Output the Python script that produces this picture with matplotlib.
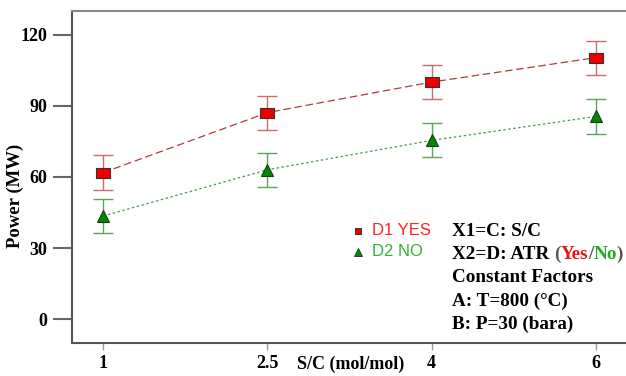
import numpy as np
import matplotlib.pyplot as plt

# data
sc_labels = ["1", "2.5", "4", "6"]
d1_yes = [61.8, 87.1, 100.0, 110.3]
d1_err = [7.3, 7.2, 7.2, 7.2]
d2_no = [43.5, 63.0, 75.4, 85.5]
d2_err = [7.2, 7.2, 7.2, 7.2]

x = np.arange(len(sc_labels))

fig = plt.figure(figsize=(6.26, 3.76), dpi=100)
ax = fig.add_axes([0.115, 0.088, 0.885, 0.883])

serif = "Liberation Serif"
rect = [(-1, -0.72), (1, -0.72), (1, 0.72), (-1, 0.72), (-1, -0.72)]

# error bars
ax.errorbar(x, d1_yes, yerr=d1_err, fmt="none", ecolor="#cf6a6a", elinewidth=1.0,
            capsize=7, capthick=1.0, zorder=2)
ax.errorbar(x, d2_no, yerr=d2_err, fmt="none", ecolor="#5aa55a", elinewidth=1.0,
            capsize=7, capthick=1.0, zorder=2)

# lines
ax.plot(x, d1_yes, color="#b03a3a", lw=0.9, ls=(0, (6, 3)), zorder=3)
ax.plot(x, d2_no, color="#4a9a4a", lw=0.9, ls=(0, (2, 2)), zorder=3)

# markers
ax.plot(x, d1_yes, ls="none", marker=rect, ms=10, mfc="#ee0000", mec="#333333",
        mew=0.8, zorder=4)
ax.plot(x, d2_no, ls="none", marker="^", ms=8, mfc="#008800", mec="#1a3a1a",
        mew=0.8, zorder=4)

ax.set_xlim(-0.189, 3.183)
ax.set_ylim(-10, 130)
ax.set_xticks(x)
ax.set_xticklabels(sc_labels)
ax.set_yticks([0, 30, 60, 90, 120])

for lab in ax.get_xticklabels() + ax.get_yticklabels():
    lab.set_fontfamily(serif)
    lab.set_fontweight("bold")
    lab.set_fontsize(13)

ax.tick_params(axis="y", length=14, width=1.5, color="#666666", pad=4)
ax.tick_params(axis="x", length=5, width=1.0, color="#999999", pad=4)

for s in ["left", "bottom", "top"]:
    ax.spines[s].set_color("#555555")
    ax.spines[s].set_linewidth(1.5)
ax.spines["top"].set_color("#888888")
ax.spines["right"].set_visible(False)

# axis labels
fig.text(0.024, 0.479, "Power (MW)", rotation=90, ha="center", va="center",
         fontfamily=serif, fontweight="bold", fontsize=13.5)
fig.text(0.475, 0.03, "S/C (mol/mol)", ha="left", va="center",
         fontfamily=serif, fontweight="bold", fontsize=13)

# legend (manual, inside the axes)
ax.plot([1.55], [37.3], ls="none", marker="s", ms=5, mfc="#ee0000", mec="#222222",
        mew=0.6)
ax.plot([1.55], [28.5], ls="none", marker="^", ms=6, mfc="#008800", mec="#1a3a1a",
        mew=0.6)
ax.text(1.64, 37.3, "D1 YES", color="#ff2222", fontfamily="Liberation Sans",
        fontsize=12, va="center", ha="left")
ax.text(1.64, 28.5, "D2 NO", color="#33b033", fontfamily="Liberation Sans",
        fontsize=12, va="center", ha="left")

# factor notes
tx = 0.722
ty = [0.383, 0.322, 0.261, 0.199, 0.137]
fs = 13.8
kw = dict(fontfamily=serif, fontweight="bold", fontsize=fs, va="center", ha="left")
fig.text(tx, ty[0], "X1=C: S/C", **kw)
t = fig.text(tx, ty[1], "X2=D: ATR ", **kw)
for piece, col in [("(", "#555555"), ("Yes", "#ee1111"), ("/", "#555555"),
                   ("No", "#22aa22"), (")", "#555555")]:
    t = ax.annotate(piece, xycoords=t, xy=(1, 0), va="bottom", ha="left",
                    color=col, fontfamily=serif, fontweight="bold", fontsize=fs)
fig.text(tx, ty[2], "Constant Factors", **kw)
fig.text(tx, ty[3], "A: T=800 (°C)", **kw)
fig.text(tx, ty[4], "B: P=30 (bara)", **kw)

fig.savefig("out.png", dpi=100)
